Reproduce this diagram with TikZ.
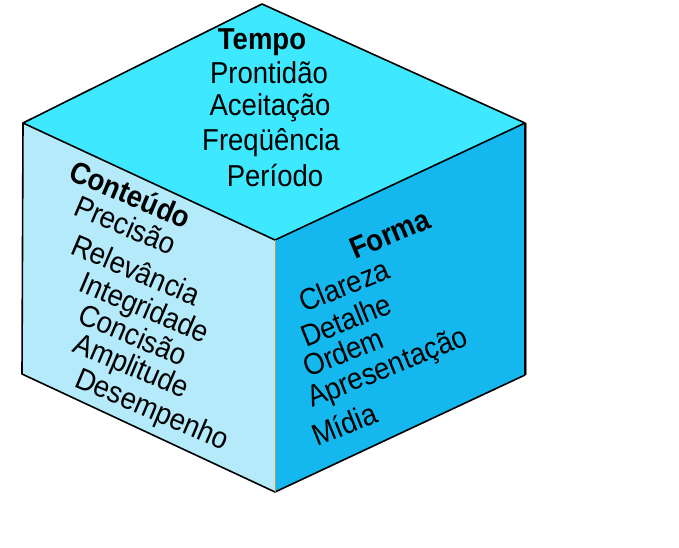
\documentclass[tikz,border=0pt]{standalone}
\usepackage{fontspec}
\usepackage{graphicx}
\setmainfont{Liberation Sans}
\definecolor{topc}{RGB}{62,232,254}
\definecolor{leftc}{RGB}{180,234,250}
\definecolor{rightc}{RGB}{20,184,238}
\definecolor{edgetan}{RGB}{190,150,80}
\newcommand{\tallt}[1]{\scalebox{1}[1.1]{#1}}
\begin{document}
\begin{tikzpicture}[x=1pt,y=-1pt,
  lbl/.style={font=\fontsize{27.5}{30}\selectfont, inner sep=0pt},
  lblb/.style={font=\fontsize{27.5}{30}\selectfont\bfseries, inner sep=0pt},
  lft/.style={anchor=base west, rotate=-23},
  rgt/.style={anchor=base west, rotate=22},
  edge/.style={line width=1.6pt, line join=round}]
\useasboundingbox (0,0) rectangle (679,548);
% vertices
\coordinate (T) at (262,4);
\coordinate (L) at (23,123);
\coordinate (R) at (525,123);
\coordinate (C) at (275,240);
\coordinate (BL) at (22,374);
\coordinate (B) at (275,492);
\coordinate (BR) at (525,375);
% faces
\fill[topc] (T) -- (R) -- (C) -- (L) -- cycle;
\fill[leftc] (L) -- (C) -- (B) -- (BL) -- cycle;
\fill[rightc] (C) -- (R) -- (BR) -- (B) -- cycle;
% edges
\draw[gray, line width=1.5pt] ([xshift=1.5pt]R) -- ([xshift=1.5pt]BR);
\draw[edge] (C) -- (L) -- (T) -- (R) -- (BR);
\draw[edge] (R) -- (C);
\draw[edge] (L) -- (BL) -- (B) -- (BR);
\draw[edgetan, line width=1pt] (C) -- (B);
% top face
\node[lblb, anchor=base] (tempo) at (262,50) {\tallt{Tempo}};
\node[lbl, anchor=base] (prontidao) at (269,84) {\tallt{Prontidão}};
\node[lbl, anchor=base] (aceitacao) at (270,116) {\tallt{Aceitação}};
\node[lbl, anchor=base] (frequencia) at (271,150) {\tallt{Freqüência}};
\node[lbl, anchor=base] (periodo) at (275,186) {\tallt{Período}};
% left face
\node[lblb, lft] (conteudo) at (67,179) {\tallt{Conteúdo}};
\node[lbl, lft] (precisao) at (72,214) {\tallt{Precisão}};
\node[lbl, lft] (relevancia) at (69,253) {\tallt{Relevância}};
\node[lbl, lft] (integridade) at (77,290) {\tallt{Integridade}};
\node[lbl, lft] (concisao) at (76,322) {\tallt{Concisão}};
\node[lbl, lft] (amplitude) at (71,351) {\tallt{Amplitude}};
\node[lbl, lft] (desempenho) at (73,386) {\tallt{Desempenho}};
% right face
\node[lblb, anchor=base west, rotate=23] (forma) at (355,260) {\tallt{Forma}};
\node[lbl, rgt] (clareza) at (304,313) {\tallt{Clareza}};
\node[lbl, rgt] (detalhe) at (306,348) {\tallt{Detalhe}};
\node[lbl, rgt] (ordem) at (308,378) {\tallt{Ordem}};
\node[lbl, rgt] (apresentacao) at (312,408) {\tallt{Apresentação}};
\node[lbl, rgt] (midia) at (317,447) {\tallt{Mídia}};
\end{tikzpicture}
\end{document}
